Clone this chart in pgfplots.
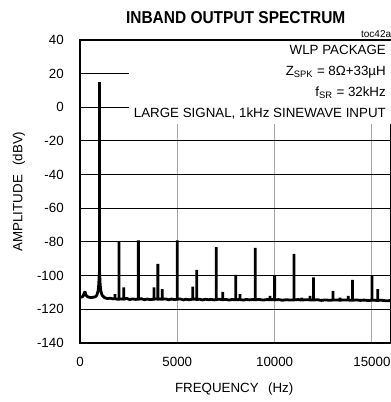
\documentclass[border=0pt]{standalone}
\usepackage{pgfplots}
\pgfplotsset{compat=1.18}
\usepackage{fontspec}
\setmainfont{Liberation Sans}
\newfontfamily\titlefont[FakeStretch=0.9]{Liberation Sans}

% spectrum trace: noise floor with harmonic spikes (vertical up and back down)
\pgfplotstableread{
f v
0 -112.5
80 -112.8
160 -112.2
230 -110
260 -109.5
300 -111.5
400 -112.6
550 -113
700 -112.8
800 -112.5
870 -111.5
930 -109
965 -105
985 -100
1000 -97
1015 -100
1035 -105
1070 -109
1130 -111.5
1250 -113
1400 -113.6
1550 -113.4
1700 -113.8
1800 -113.5
1800 -111
1800 -113.6
1900 -114
2000 -114
2000 -80
2000 -114
2120 -113.8
2250 -114
2250 -107
2250 -114
2400 -113.5
2550 -114.2
2700 -113.8
2850 -114.1
3000 -114
3000 -79
3000 -114
3150 -113.7
3300 -114.3
3450 -113.9
3600 -114.2
3800 -114
3800 -107
3800 -114
3900 -113.8
4000 -114
4000 -93
4000 -114
4100 -113.9
4230 -114
4230 -108
4230 -114
4400 -113.8
4550 -114.3
4700 -113.9
4850 -114.2
5000 -114
5000 -79
5000 -114
5150 -113.8
5300 -114.4
5450 -114
5600 -114.3
5790 -114
5790 -106.5
5790 -114
5900 -113.9
6000 -114.2
6000 -96.5
6000 -114.2
6150 -114
6300 -114.4
6450 -114
6600 -114.3
6750 -114.1
6900 -114.4
7000 -114.2
7000 -83
7000 -114.2
7150 -114
7330 -114.3
7330 -109.6
7330 -114.3
7500 -114.1
7650 -114.5
7800 -114.2
8000 -114.3
8000 -99.5
8000 -114.3
8220 -114.2
8220 -111
8220 -114.2
8400 -114.5
8550 -114.1
8700 -114.4
8850 -114.2
9000 -114.3
9000 -83.5
9000 -114.3
9200 -114.1
9400 -114.5
9600 -114.2
9760 -114.3
9760 -112
9760 -114.3
9900 -114.2
10000 -114.4
10000 -100
10000 -114.4
10200 -114.2
10400 -114.6
10600 -114.3
10800 -114.5
11000 -114.4
11000 -87
11000 -114.4
11200 -114.2
11390 -114.5
11390 -113
11390 -114.5
11600 -114.3
11820 -114.4
11820 -112
11820 -114.4
12000 -114.5
12000 -101
12000 -114.5
12200 -114.3
12400 -114.7
12600 -114.4
12800 -114.6
13000 -114.5
13000 -109
13000 -114.5
13200 -114.4
13360 -114.6
13360 -113
13360 -114.6
13550 -114.4
13780 -114.5
13780 -112
13780 -114.5
14000 -114.6
14000 -102.5
14000 -114.6
14200 -114.4
14400 -114.7
14600 -114.5
14800 -114.8
15000 -114.6
15000 -100
15000 -114.6
15300 -114.7
15300 -108
15300 -114.7
15500 -114.6
15700 -114.9
16000 -114.8
}\spectrum

\begin{document}
\begin{tikzpicture}
\begin{axis}[
    at={(0,0)}, anchor=south west,
    scale only axis,
    width=233.55pt, height=227.25pt,
    xmin=0, xmax=16000,
    ymin=-140, ymax=40,
    clip=false,
    xtick={0,5000,10000,15000},
    ytick={-140,-120,...,40},
    major tick length=0pt,
    /pgf/number format/assume math mode=true,
    /pgf/number format/set thousands separator={},
    scaled x ticks=false,
    tick label style={font=\fontsize{10}{12}\selectfont},
    yticklabel style={xshift=-8.7pt},
    xticklabel style={yshift=-7.2pt},
    xmajorgrids, ymajorgrids,
    x grid style={gray!70, line width=0.75pt},
    y grid style={black, line width=0.75pt},
    axis line style={line width=2pt},
    every axis x label/.style={at={(axis description cs:0.495,-0.152)}, anchor=center},
    every axis y label/.style={at={(axis description cs:-0.196,0.5)}, anchor=center, rotate=90},
    xlabel={\fontsize{10}{12}\selectfont FREQUENCY\hspace{0.7em}(Hz)},
    ylabel={\fontsize{10}{12}\selectfont AMPLITUDE\hspace{0.7em}(dBV)},
]
\addplot[black, line width=2.1pt, line join=bevel] table[x=f, y=v] {\spectrum};
% fundamental at 1 kHz, a little wider
\addplot[black, line width=2.8pt, line cap=butt] coordinates {(1000,-105) (1000,15)};

\node[fill=white, anchor=north east, align=right, inner xsep=4pt, inner ysep=3.5pt,
      font=\fontsize{10}{15.75}\selectfont] at (rel axis cs:1,1)
    {WLP PACKAGE\\
     Z\textsubscript{SPK} = 8Ω+33µH\\
     f\textsubscript{SR} = 32kHz\\
     LARGE SIGNAL,\ 1kHz SINEWAVE INPUT};
\draw[line width=2pt] (rel axis cs:0,1) -- (rel axis cs:1,1);
\node[anchor=base east, font=\fontsize{7.5}{9}\selectfont, inner sep=0pt]
    at ([yshift=2.2pt]rel axis cs:1,1) {toc42a};
\node[anchor=center, font=\titlefont\bfseries\fontsize{12.9}{14}\selectfont]
    at (axis description cs:0.5,1.073) {INBAND OUTPUT SPECTRUM};
\end{axis}
\pgfresetboundingbox
\useasboundingbox (-60pt,-44.25pt) rectangle (232.5pt,257.25pt);
\end{tikzpicture}
\end{document}
